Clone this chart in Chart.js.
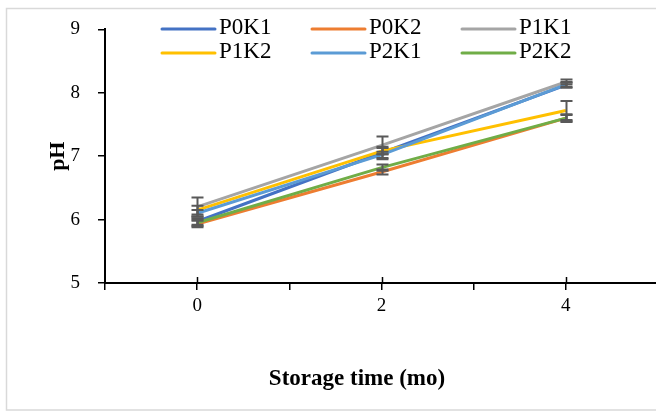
<!DOCTYPE html>
<html><head><meta charset="utf-8">
<script src="https://cdn.jsdelivr.net/npm/chart.js@4"></script>
<style>html,body{margin:0;padding:0;background:#fff;overflow:hidden}#wrap{width:656px;height:414px;position:relative;overflow:hidden}</style>
</head><body><div id="wrap"><canvas id="c" width="663" height="414"></canvas></div>
<script>
// ---- data ----
const categories = [0, 2, 4];
const seriesNames = ['P0K1', 'P0K2', 'P1K1', 'P1K2', 'P2K1', 'P2K2'];
const P0K1 = [5.97, 7.05, 8.12];
const P0K2 = [5.93, 6.75, 7.60];
const P1K1 = [6.20, 7.17, 8.17];
const P1K2 = [6.15, 7.08, 7.72];
const P2K1 = [6.10, 7.02, 8.13];
const P2K2 = [5.95, 6.82, 7.60];
const errP0K1 = [0.05, 0.10, 0.04];
const errP0K2 = [0.05, 0.04, 0.05];
const errP1K1 = [0.15, 0.14, 0.04];
const errP1K2 = [0.07, 0.05, 0.15];
const errP2K1 = [0.05, 0.05, 0.04];
const errP2K2 = [0.05, 0.05, 0.06];
const yTicks = [5, 6, 7, 8, 9];
const xAxisTitle = 'Storage time (mo)';
const yAxisTitle = 'pH';

const seriesValues = [P0K1, P0K2, P1K1, P1K2, P2K1, P2K2];
const seriesErrors = [errP0K1, errP0K2, errP1K1, errP1K2, errP2K1, errP2K2];
const colors = ['#4472C4', '#ED7D31', '#A5A5A5', '#FFC000', '#5B9BD5', '#70AD47'];

const SERIF = '"Liberation Serif", "Times New Roman", serif';

const datasets = seriesNames.map((name, i) => ({
  label: name,
  data: categories.map((c, j) => ({x: c, y: seriesValues[i][j]})),
  errors: seriesErrors[i],
  borderColor: colors[i],
  backgroundColor: colors[i],
  borderWidth: 3,
  pointRadius: 0,
  pointHoverRadius: 0,
  tension: 0,
  fill: false,
  order: seriesNames.length - i
}));

const decorPlugin = {
  id: 'decor',
  afterDatasetsDraw(chart) {
    const ctx = chart.ctx;
    const xs = chart.scales.x, ys = chart.scales.y;
    ctx.save();
    ctx.strokeStyle = '#595959';
    ctx.lineWidth = 2;
    chart.data.datasets.forEach(ds => {
      ds.data.forEach((p, j) => {
        const e = ds.errors[j];
        const px = Math.round(xs.getPixelForValue(p.x)) + 0.5;
        const yt = ys.getPixelForValue(p.y + e);
        const yb = ys.getPixelForValue(p.y - e);
        ctx.beginPath();
        ctx.moveTo(px, yt); ctx.lineTo(px, yb);
        ctx.moveTo(px - 6, yt); ctx.lineTo(px + 6, yt);
        ctx.moveTo(px - 6, yb); ctx.lineTo(px + 6, yb);
        ctx.stroke();
      });
    });
    ctx.restore();
  },
  afterDraw(chart) {
    const ctx = chart.ctx;
    const xs = chart.scales.x;
    const ca = chart.chartArea;
    ctx.save();
    // outer frame
    ctx.strokeStyle = '#d9d9d9';
    ctx.lineWidth = 1.5;
    ctx.strokeRect(6.5, 8.5, 700, 401.5);
    // upward parts of major x ticks
    ctx.strokeStyle = '#000';
    ctx.lineWidth = 1.5;
    [0, 2, 4, 5].forEach(v => {
      const px = Math.round(xs.getPixelForValue(v)) + 0.5;
      ctx.beginPath(); ctx.moveTo(px, ca.bottom - 6); ctx.lineTo(px, ca.bottom); ctx.stroke();
    });
    // legend
    const colX = [162, 312, 462];
    const rowY = [29, 53];
    ctx.font = '23px ' + SERIF;
    ctx.textBaseline = 'middle';
    ctx.textAlign = 'left';
    chart.data.datasets.forEach((ds, i) => {
      const cx = colX[i % 3], cy = rowY[Math.floor(i / 3)];
      ctx.strokeStyle = ds.borderColor;
      ctx.lineWidth = 3;
      ctx.lineCap = 'round';
      ctx.beginPath(); ctx.moveTo(cx, cy); ctx.lineTo(cx + 53, cy); ctx.stroke();
      ctx.fillStyle = '#000';
      ctx.fillText(ds.label, cx + 57, cy - 1);
    });
    // x axis title
    ctx.font = 'bold 23px ' + SERIF;
    ctx.textAlign = 'center';
    ctx.fillText(xAxisTitle, 357, 379);
    ctx.restore();
  }
};

new Chart(document.getElementById('c'), {
  type: 'line',
  data: { datasets },
  options: {
    responsive: false,
    devicePixelRatio: 1,
    animation: false,
    layout: { padding: { top: 27, right: 1, left: 0, bottom: 0 } },
    plugins: { legend: { display: false }, tooltip: { enabled: false } },
    scales: {
      x: {
        type: 'linear', min: -1, max: 5,
        afterFit: s => { s.height = 131; },
        ticks: {
          stepSize: 1, autoSkip: false, maxRotation: 0, padding: 5,
          color: '#000', font: { family: SERIF, size: 19 },
          callback: v => categories.includes(v) ? String(v) : ''
        },
        grid: { drawOnChartArea: false, drawTicks: true, tickLength: 7, color: '#000', lineWidth: 1.5 },
        border: { display: true, color: '#000', width: 2 }
      },
      y: {
        min: yTicks[0], max: yTicks[yTicks.length - 1],
        afterFit: s => { s.width = 105; },
        afterBuildTicks: s => { s.ticks = yTicks.map(v => ({value: v})); },
        ticks: { padding: 18, color: '#000', font: { family: SERIF, size: 19 } },
        grid: { drawOnChartArea: false, drawTicks: true, tickLength: 7, color: '#000', lineWidth: 1.5 },
        border: { display: true, color: '#000', width: 2 },
        title: { display: true, text: yAxisTitle, color: '#000', font: { family: SERIF, size: 22, weight: 'bold' }, padding: { top: 45, bottom: 0 } }
      }
    }
  },
  plugins: [decorPlugin]
});
</script>
</body></html>
